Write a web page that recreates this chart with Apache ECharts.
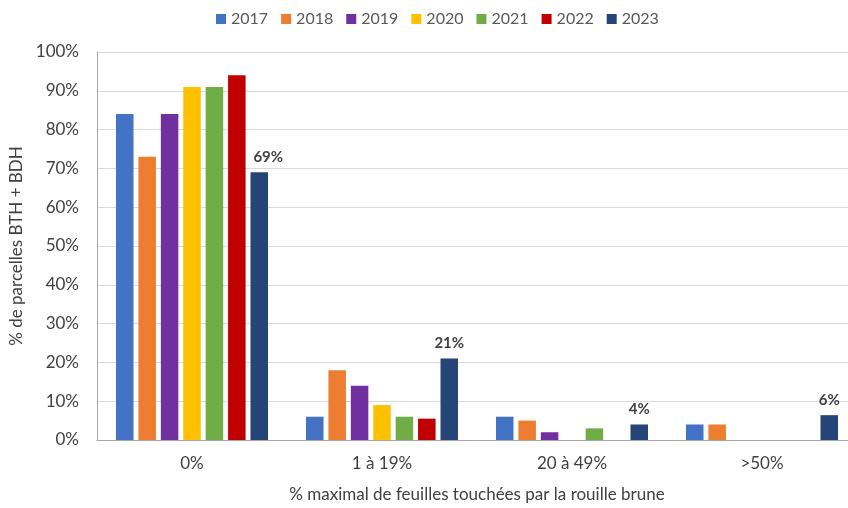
<!DOCTYPE html>
<html><head><meta charset="utf-8">
<script src="https://cdn.jsdelivr.net/npm/echarts@6/dist/echarts.min.js"></script>
<style>html,body{margin:0;padding:0;background:#fff}#c{width:848px;height:508px}</style>
</head><body><div id="c"></div>
<script>
const categories = ['0%', '1 à 19%', '20 à 49%', '>50%'];
const years = ['2017', '2018', '2019', '2020', '2021', '2022', '2023'];
const v2017 = [84, 6, 6, 4];
const v2018 = [73, 18, 5, 4];
const v2019 = [84, 14, 2, 0];
const v2020 = [91, 9, 0, 0];
const v2021 = [91, 6, 3, 0];
const v2022 = [94, 5.5, 0, 0];
const v2023 = [69, 21, 4, 6.4];
const yTicks = [0, 10, 20, 30, 40, 50, 60, 70, 80, 90, 100];
const colors = ['#4472C4', '#ED7D31', '#7030A0', '#FFC000', '#70AD47', '#C00000', '#264478'];
const allValues = [v2017, v2018, v2019, v2020, v2021, v2022, v2023];

const font = 'Lato, "Open Sans", sans-serif';
const chart = echarts.init(document.getElementById('c'));
const labelStyle = {
  show: true, position: 'top', distance: 8,
  formatter: p => Math.round(p.value) + '%',
  fontSize: 15, fontWeight: 'bold', color: '#404040', fontFamily: font
};
chart.setOption({
  animation: false,
  textStyle: { fontFamily: font },
  color: colors,
  legend: {
    top: 6, left: 211, itemWidth: 10, itemHeight: 10, itemGap: 13,
    icon: 'rect',
    textStyle: { fontSize: 16, color: '#595959', fontFamily: font }
  },
  grid: { left: 97, right: -9, top: 52, bottom: 68, containLabel: false, outerBoundsMode: 'none' },
  xAxis: {
    type: 'category', data: categories,
    name: '% maximal de feuilles touchées par la rouille brune',
    nameLocation: 'middle', nameGap: 46,
    nameTextStyle: { fontSize: 17, color: '#404040', fontFamily: font },
    axisLine: { lineStyle: { color: '#a6a6a6' } },
    axisTick: { length: 6, lineStyle: { color: '#a6a6a6' } },
    axisLabel: { fontSize: 17, color: '#404040', margin: 15, fontFamily: font }
  },
  yAxis: {
    type: 'value', min: yTicks[0], max: yTicks[yTicks.length - 1], interval: 10,
    name: '% de parcelles BTH + BDH', nameLocation: 'middle', nameGap: 70, nameRotate: 90,
    nameTextStyle: { fontSize: 17, color: '#404040', fontFamily: font },
    axisLine: { show: true, lineStyle: { color: '#a6a6a6' } },
    axisTick: { show: false },
    axisLabel: { formatter: v => v + '%', fontSize: 17, color: '#404040', margin: 18, fontFamily: font },
    splitLine: { lineStyle: { color: '#d9d9d9' } }
  },
  series: years.map((y, i) => ({
    name: y, type: 'bar',
    data: i === years.length - 1
      ? allValues[i].map((v, j) => j === 0 ? { value: v, label: { offset: [9, 0] } } : v)
      : allValues[i],
    barGap: '28%', barCategoryGap: '20%',
    itemStyle: { color: colors[i] },
    label: i === years.length - 1 ? labelStyle : { show: false }
  }))
});
</script></body></html>
